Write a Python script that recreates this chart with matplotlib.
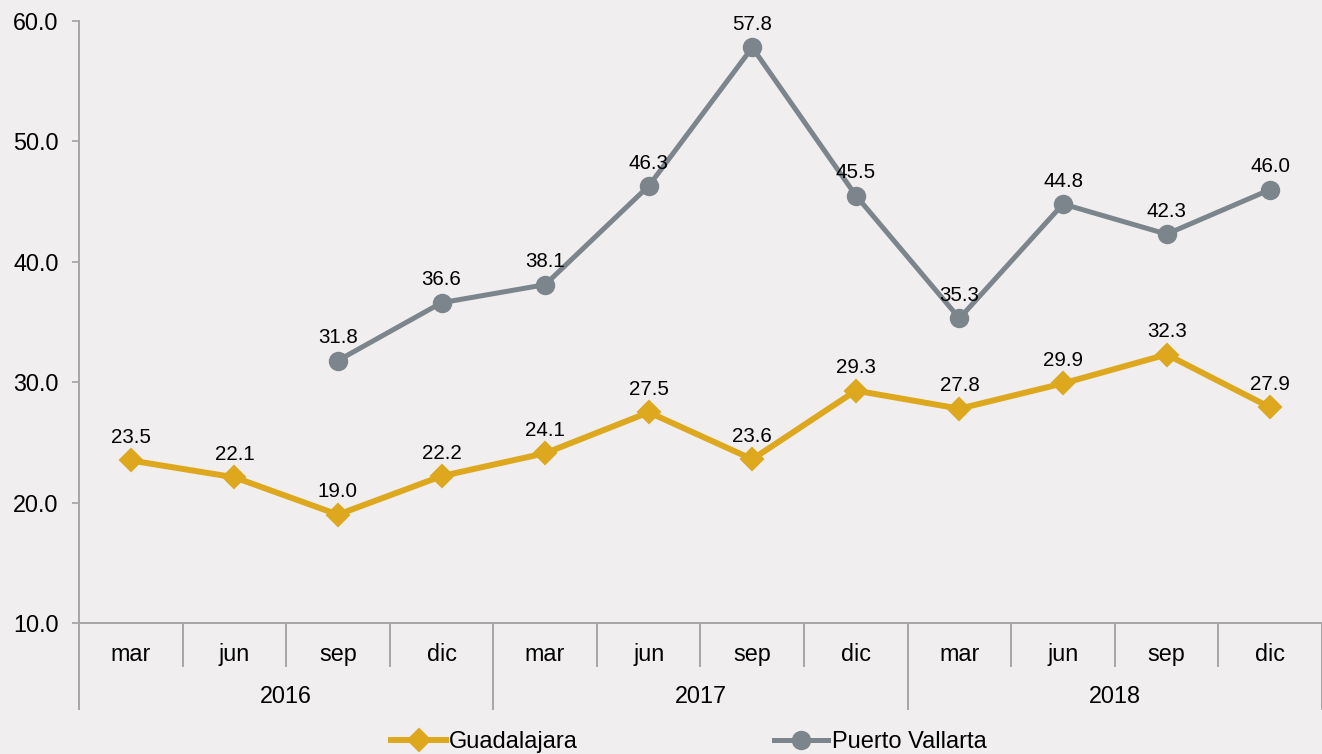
import matplotlib
matplotlib.use("Agg")
import matplotlib.pyplot as plt
import numpy as np
import matplotlib.transforms as mtrans

plt.rcParams['font.family'] = ['Liberation Sans', 'DejaVu Sans']

months = ["mar", "jun", "sep", "dic"] * 3
years = ["2016", "2017", "2018"]
guadalajara = [23.5, 22.1, 19.0, 22.2, 24.1, 27.5, 23.6, 29.3, 27.8, 29.9, 32.3, 27.9]
puerto_vallarta = [np.nan, np.nan, 31.8, 36.6, 38.1, 46.3, 57.8, 45.5, 35.3, 44.8, 42.3, 46.0]
yticks = [10, 20, 30, 40, 50, 60]

BG = "#F0EEEF"
GOLD = "#DEA81E"
GRAY = "#7D858C"
AXC = "#A6A6A6"

W, H = 1322, 754
fig = plt.figure(figsize=(W / 100, H / 100), dpi=100, facecolor=BG)
ax = fig.add_axes([79 / W, (H - 623) / H, (W - 79) / W, (623 - 21) / H])
ax.set_facecolor(BG)

x = np.arange(len(months))
ax.plot(x, guadalajara, color=GOLD, lw=4.3, marker='D', ms=11.5, mec=GOLD, mew=1.5,
        solid_joinstyle='round', label="Guadalajara", zorder=3)
ax.plot(x, puerto_vallarta, color=GRAY, lw=3.6, marker='o', ms=13, mec=GRAY,
        label="Puerto Vallarta", zorder=3)

for xi, v in zip(x, guadalajara):
    ax.annotate(f"{v:.1f}", (xi, v), xytext=(0, 16.5), textcoords='offset points',
                ha='center', va='center', fontsize=14.8, color='black')
for xi, v in zip(x, puerto_vallarta):
    if not np.isnan(v):
        ax.annotate(f"{v:.1f}", (xi, v), xytext=(0, 16.5), textcoords='offset points',
                    ha='center', va='center', fontsize=14.8, color='black')

ax.set_xlim(-0.5, len(months) - 0.5)
ax.set_ylim(10, 60)
ax.set_yticks(yticks)
ax.set_yticklabels([f"{t:.1f}" for t in yticks], fontsize=16.8)
ax.tick_params(axis='y', direction='out', length=5, width=1.3, color=AXC, pad=9.5)
ax.set_xticks([])
for s in ['top', 'right']:
    ax.spines[s].set_visible(False)
for s in ['left', 'bottom']:
    ax.spines[s].set_color(AXC)
    ax.spines[s].set_linewidth(1.4)

axh = 623 - 21
trans = mtrans.blended_transform_factory(ax.transData, ax.transAxes)
m_depth = -43 / axh
y_depth = -86 / axh
for i in range(len(months) + 1):
    b = i - 0.5
    depth = y_depth if i % 4 == 0 else m_depth
    ax.plot([b, b], [0, depth], transform=trans, color=AXC, lw=1.4, clip_on=False)
for i, m in enumerate(months):
    ax.text(i, -31.5 / axh, m, transform=trans, ha='center', va='center', fontsize=16.8)
for j, yv in enumerate(years):
    ax.text(j * 4 + 1.5, -73.5 / axh, yv, transform=trans, ha='center', va='center', fontsize=16.8)

leg = fig.legend(loc='center', bbox_to_anchor=(689 / W, 1 - 742 / H), ncol=2, frameon=False,
                 fontsize=17, handlelength=2.3, handletextpad=0.15, columnspacing=8.3,
                 borderaxespad=0, borderpad=0)

fig.savefig("out.png", dpi=100, facecolor=BG)
